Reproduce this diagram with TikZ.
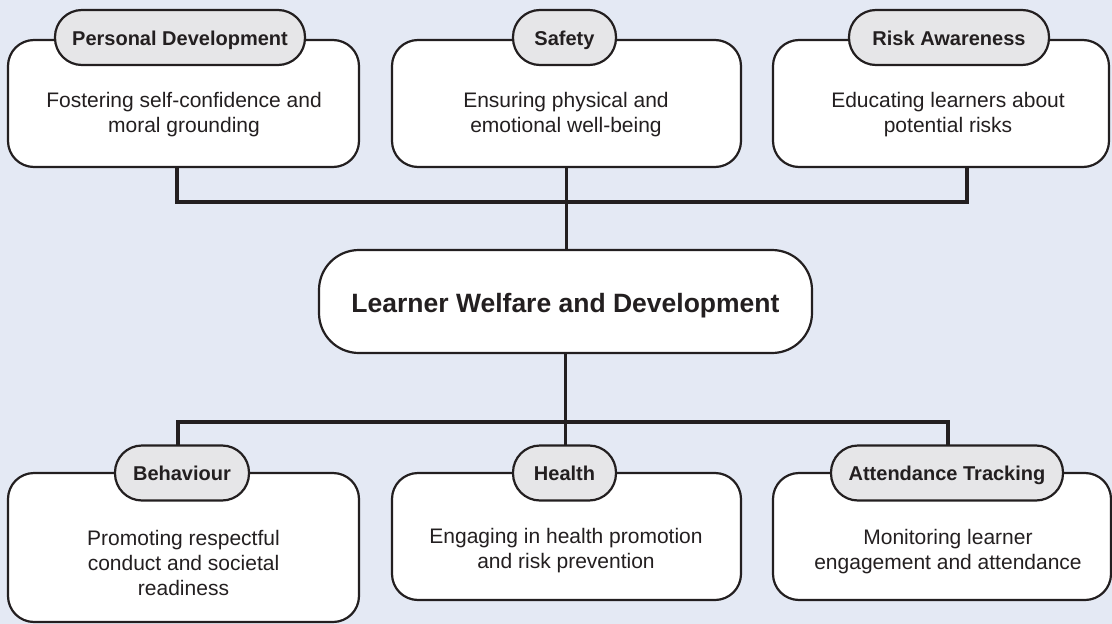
\documentclass[tikz,border=0pt]{standalone}
\usepackage{fontspec}
\setmainfont{Liberation Sans}
\definecolor{bgblue}{RGB}{228,233,244}
\definecolor{ink}{RGB}{35,31,32}
\definecolor{tagfill}{RGB}{230,230,232}

\begin{document}
\begin{tikzpicture}[x=1pt,y=-1pt,
  box/.style={draw=ink,line width=2.2pt,fill=white,rounded corners=26pt,inner sep=0pt},
  tag/.style={draw=ink,line width=2.2pt,fill=tagfill,rounded corners=27pt,minimum height=55pt,
    inner sep=0pt,text height=18pt,text depth=3pt,text=ink,font=\fontsize{20}{24}\selectfont\bfseries},
  desc/.style={align=center,text=ink,font=\fontsize{21}{25}\selectfont},
  link/.style={draw=ink,line width=3.5pt}]
  \fill[bgblue] (0,0) rectangle (1112,624);
  \useasboundingbox (0,0) rectangle (1112,624);

  % outer boxes
  \node[box,minimum width=351pt,minimum height=127pt] (pd) at (183.5,103.5) {};
  \node[box,minimum width=349pt,minimum height=127pt] (sf) at (566.5,103.5) {};
  \node[box,minimum width=336pt,minimum height=127pt] (ra) at (941,103.5) {};
  \node[box,rounded corners=40pt,minimum width=493pt,minimum height=103pt,
        text height=26pt,text depth=4pt,
        font=\fontsize{26.5}{30}\selectfont\bfseries,text=ink] (core) at (565.5,301.5)
        {Learner Welfare and Development};
  \node[box,minimum width=351pt,minimum height=149pt] (bh) at (183.5,547.5) {};
  \node[box,minimum width=349pt,minimum height=127pt] (hl) at (566.5,536.5) {};
  \node[box,minimum width=338pt,minimum height=127pt] (at) at (942,536.5) {};

  % connectors
  \coordinate (tl) at (177,202);
  \coordinate (tr) at (967,202);
  \coordinate (bl) at (178,422);
  \coordinate (br) at (948,422);
  \draw[link] (pd.south -| tl) -- (tl) -- (tr) -- (ra.south -| tr);
  \draw[link] (sf.south) -- (sf.south |- core.north);
  \draw[link] (core.south) -- (core.south |- 0,445);
  \draw[link] (bl |- 0,445) -- (bl) -- (br) -- (br |- 0,445);

  % tags
  \node[tag,minimum width=250pt] (pdtag) at (180,37.5) {Personal Development};
  \node[tag,minimum width=103pt] (sftag) at (564.5,37.5) {Safety};
  \node[tag,minimum width=200pt] (ratag) at (949,37.5) {Risk Awareness};
  \node[tag,minimum width=134pt] (bhtag) at (182,473) {Behaviour};
  \node[tag,minimum width=103pt] (hltag) at (564.5,473) {Health};
  \node[tag,minimum width=232pt] (attag) at (947,473) {Attendance Tracking};

  % descriptions
  \node[desc] (pdtxt) at (184,115) {Fostering self-confidence and\\moral grounding};
  \node[desc] (sftxt) at (566,114.5) {Ensuring physical and\\emotional well-being};
  \node[desc] (ratxt) at (948,115) {Educating learners about\\potential risks};
  \node[desc] (bhtxt) at (183.5,563) {Promoting respectful\\conduct and societal\\readiness};
  \node[desc] (hltxt) at (566,551) {Engaging in health promotion\\and risk prevention};
  \node[desc] (attxt) at (948,551.5) {Monitoring learner\\engagement and attendance};
\end{tikzpicture}
\end{document}
